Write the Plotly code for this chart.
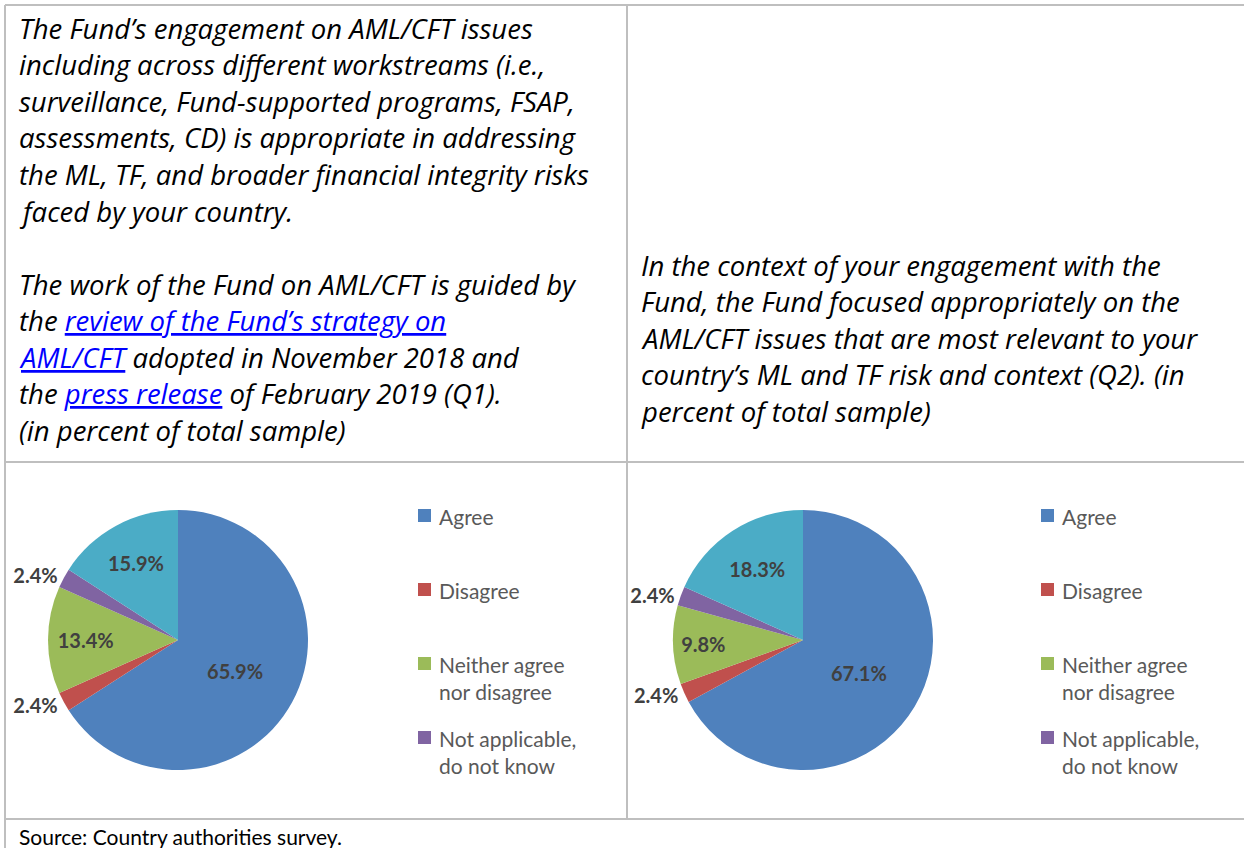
import plotly.graph_objects as go

W, H = 1244, 848

# ---------------- data ----------------
categories = ["Agree", "Disagree", "Neither agree nor disagree",
              "Not applicable, do not know", "Strongly agree"]
q1_values = [65.9, 2.4, 13.4, 2.4, 15.9]
q2_values = [67.1, 2.4, 9.8, 2.4, 18.3]
slice_colors = ["#4F81BD", "#C0504D", "#9BBB59", "#8064A2", "#4BACC6"]
legend_labels = ["Agree", "Disagree", "Neither agree<br>nor disagree",
                 "Not applicable,<br>do not know"]
label_positions = ["inside", "outside", "inside", "outside", "inside"]

LINK = "<span style='color:#0000FF'><u>{}</u></span>"
q1_lines = [
    "The Fund’s engagement on AML/CFT issues",
    "including across different workstreams (i.e.,",
    "surveillance, Fund-supported programs, FSAP,",
    "assessments, CD) is appropriate in addressing",
    "the ML, TF, and broader financial integrity risks",
    "faced by your country.",
    "",
    "The work of the Fund on AML/CFT is guided by",
    "the " + LINK.format("review of the Fund’s strategy on"),
    LINK.format("AML/CFT") + " adopted in November 2018 and",
    "the " + LINK.format("press release") + " of February 2019 (Q1).",
    "(in percent of total sample)",
]
q2_lines = [
    "In the context of your engagement with the",
    "Fund, the Fund focused appropriately on the",
    "AML/CFT issues that are most relevant to your",
    "country’s ML and TF risk and context (Q2). (in",
    "percent of total sample)",
]
source_text = "Source: Country authorities survey."


def px(x):
    return x / W


def py(y):
    return 1 - y / H


fig = go.Figure()

# ---------------- pies ----------------
pie_specs = [(q1_values, 178), (q2_values, 803)]
R = 130
CY = 640
for vals, cx in pie_specs:
    fig.add_trace(go.Pie(
        values=vals,
        labels=categories,
        sort=False,
        direction="clockwise",
        rotation=0,
        marker=dict(colors=slice_colors, line=dict(color="white", width=0)),
        textposition=label_positions,
        texttemplate="%{value:.1f}%",
        textfont=dict(family="Lato", size=20, color="#404040", weight="bold"),
        insidetextorientation="horizontal",
        showlegend=False,
        domain=dict(x=[px(cx - R), px(cx + R)], y=[py(CY + R), py(CY - R)]),
    ))

annotations = []
shapes = []

# ---------------- question texts ----------------
line_step = 36.6
TFONT = dict(family="Open Sans", size=27.5, color="#000000")
for i, t in enumerate(q1_lines):
    if not t:
        continue
    annotations.append(dict(
        x=px(17), y=py(28 + i * line_step), xref="paper", yref="paper",
        xanchor="left", yanchor="middle", showarrow=False,
        text="<i>" + t + "</i>", font=TFONT,
    ))
for i, t in enumerate(q2_lines):
    annotations.append(dict(
        x=px(639), y=py(265 + i * line_step), xref="paper", yref="paper",
        xanchor="left", yanchor="middle", showarrow=False,
        text="<i>" + t + "</i>", font=TFONT,
    ))

# ---------------- legends ----------------
leg_y = [515, 589, 663, 737]
for lx in [418, 1041]:
    for lab, yy, col in zip(legend_labels, leg_y, slice_colors):
        shapes.append(dict(
            type="rect", xref="paper", yref="paper",
            x0=px(lx), x1=px(lx + 13), y0=py(yy + 7), y1=py(yy - 6),
            fillcolor=col, line=dict(width=0),
        ))
        annotations.append(dict(
            x=px(lx + 19), y=py(yy - 13), xref="paper", yref="paper",
            xanchor="left", yanchor="top", align="left", showarrow=False,
            text=lab,
            font=dict(family="Lato", size=21, color="#595959"),
        ))

# ---------------- source ----------------
annotations.append(dict(
    x=px(17), y=py(836), xref="paper", yref="paper",
    xanchor="left", yanchor="middle", showarrow=False,
    text=source_text,
    font=dict(family="Lato", size=21, color="#000000"),
))

# ---------------- table borders ----------------
border = dict(color="#BFBFBF", width=2)
for (x0, y0, x1, y1) in [
    (5, 5, 1244, 5),
    (5, 462, 1244, 462),
    (5, 819, 1244, 819),
    (5, 5, 5, 848),
    (627, 5, 627, 819),
]:
    shapes.append(dict(type="line", xref="paper", yref="paper",
                       x0=px(x0), y0=py(y0), x1=px(x1), y1=py(y1),
                       line=border))

fig.update_layout(
    width=W, height=H,
    margin=dict(l=0, r=0, t=0, b=0),
    paper_bgcolor="white",
    plot_bgcolor="white",
    annotations=annotations,
    shapes=shapes,
)

fig.write_html("out.html",
               config={"displayModeBar": False},
               post_script="document.body.style.margin='0';document.body.style.overflow='hidden';")
